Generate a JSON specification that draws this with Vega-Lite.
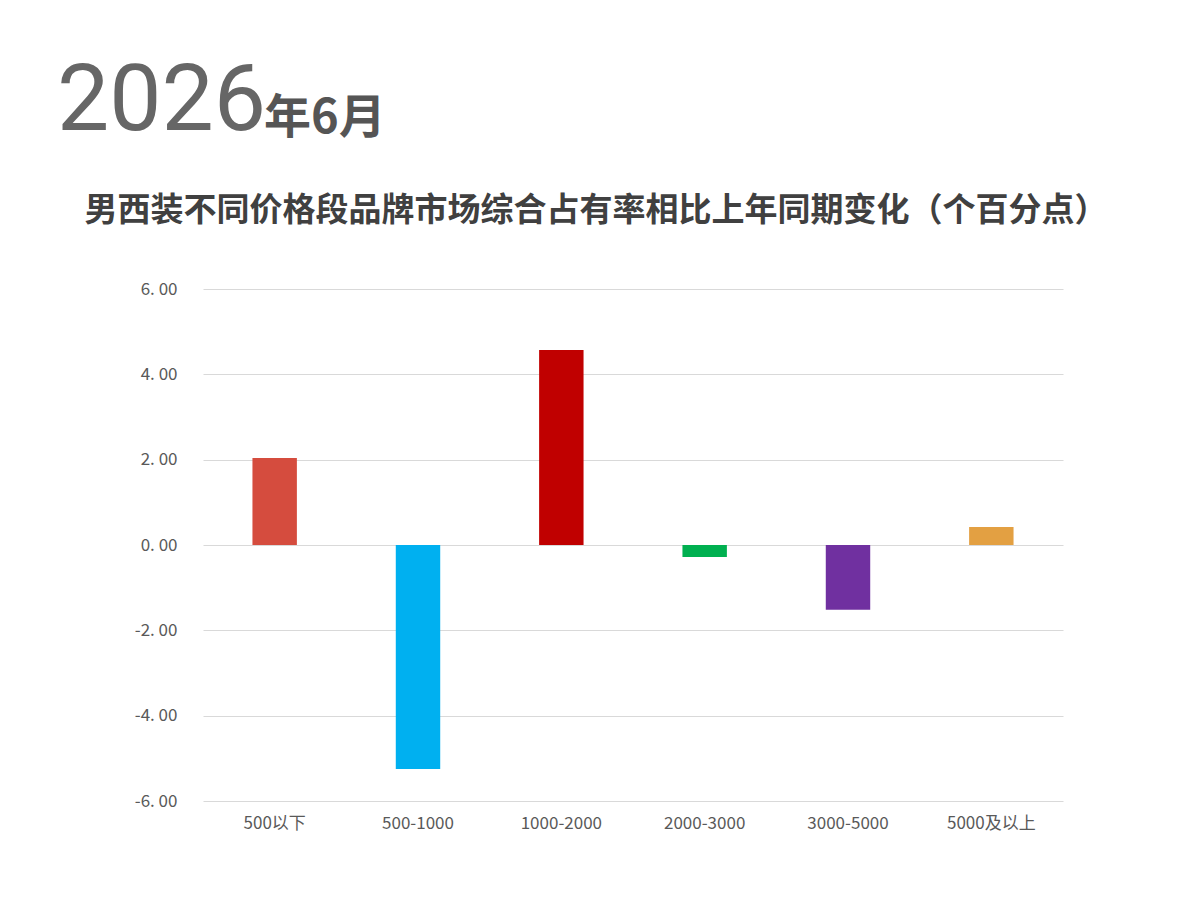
{
  "$schema": "https://vega.github.io/schema/vega-lite/v6.json",
  "background": "white",
  "padding": {"left": 57, "top": 56, "right": 5, "bottom": 5},
  "config": {
    "view": {"stroke": null},
    "font": "Noto Sans CJK SC"
  },
  "spacing": 22,
  "vconcat": [
    {
      "spacing": 206,
      "bounds": "flush",
      "hconcat": [
        {
          "width": 1,
          "height": 1,
          "data": {"values": []},
          "mark": "point",
          "title": {
            "text": "2026",
            "font": "Roboto",
            "fontSize": 93,
            "fontWeight": "normal",
            "color": "#666666",
            "anchor": "start",
            "baseline": "alphabetic",
            "dx": -146,
            "offset": -51
          }
        },
        {
          "width": 1,
          "height": 1,
          "data": {"values": []},
          "mark": "point",
          "title": {
            "text": "年6月",
            "font": "Noto Sans CJK SC",
            "fontSize": 47,
            "fontWeight": "bold",
            "color": "#555555",
            "anchor": "start",
            "baseline": "alphabetic",
            "dx": -146,
            "offset": -8
          }
        }
      ]
    },
    {
      "width": 860,
      "height": 512,
      "title": {
        "text": "男西装不同价格段品牌市场综合占有率相比上年同期变化（个百分点）",
        "font": "Noto Sans CJK SC",
        "fontSize": 33,
        "fontWeight": "bold",
        "color": "#404040",
        "anchor": "middle",
        "dx": -37,
        "baseline": "alphabetic",
        "offset": 26
      },
      "data": {
        "values": [
          {"segment": "500以下", "change": 2.04},
          {"segment": "500-1000", "change": -5.25},
          {"segment": "1000-2000", "change": 4.57},
          {"segment": "2000-3000", "change": -0.28},
          {"segment": "3000-5000", "change": -1.52},
          {"segment": "5000及以上", "change": 0.42}
        ]
      },
      "mark": {"type": "bar"},
      "encoding": {
        "x": {
          "field": "segment",
          "type": "nominal",
          "sort": null,
          "scale": {"paddingInner": 0.69, "paddingOuter": 0.345},
          "axis": {
            "title": null,
            "domain": false,
            "ticks": false,
            "labelAngle": 0,
            "labelFontSize": 17,
            "labelColor": "#595959",
            "labelPadding": 14
          }
        },
        "y": {
          "field": "change",
          "type": "quantitative",
          "scale": {"domain": [-6, 6], "nice": false},
          "axis": {
            "title": null,
            "values": [-6, -4, -2, 0, 2, 4, 6],
            "domain": false,
            "ticks": false,
            "labelFontSize": 17,
            "labelColor": "#595959",
            "labelPadding": 26,
            "gridColor": "#d9d9d9",
            "gridWidth": 1,
            "labelExpr": "replace((datum.value < 0 ? '-' : '') + format(abs(datum.value), '.2f'), '.', '. ')"
          }
        },
        "color": {
          "field": "segment",
          "type": "nominal",
          "legend": null,
          "scale": {
            "domain": ["500以下", "500-1000", "1000-2000", "2000-3000", "3000-5000", "5000及以上"],
            "range": ["#d54c3e", "#00b0f0", "#c00000", "#00b050", "#7030a0", "#e3a042"]
          }
        }
      }
    }
  ]
}
